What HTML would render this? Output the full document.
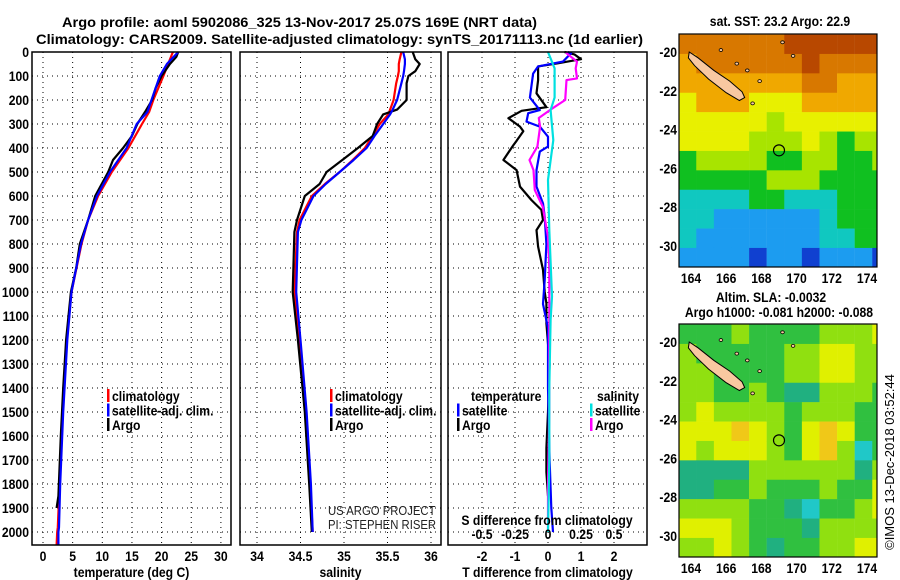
<!DOCTYPE html>
<html><head><meta charset="utf-8"><style>
html,body{margin:0;padding:0;background:#fff;}
svg{display:block;font-family:"Liberation Sans",sans-serif;}
.b{font-weight:bold;font-size:14px;}
</style></head><body>
<svg id="c" width="900" height="580" viewBox="0 0 900 580" xmlns="http://www.w3.org/2000/svg">
<g>
<text class="b" x="62" y="27" textLength="475" lengthAdjust="spacingAndGlyphs">Argo profile: aoml 5902086_325 13-Nov-2017 25.07S 169E (NRT data)</text>
<text class="b" x="36" y="44" textLength="607" lengthAdjust="spacingAndGlyphs">Climatology: CARS2009. Satellite-adjusted climatology: synTS_20171113.nc (1d earlier)</text>
</g>
<g id="grid"></g><g id="lines"></g><g id="frames"></g><g id="labels"></g><g id="maps"></g>
</svg>
<script>
// depth-profile data [depth m, value]
const tempDepths = [0,20,50,100,150,200,250,300,350,400,450,500,550,600,700,800,900,1000,1200,1400,1600,1850,1900];
const tempArgo   = [22.8,22.5,21.4,20,19,18.4,17.2,15.9,15,13.5,11.8,11,9.9,8.8,7.6,6.2,5.6,4.7,3.9,3.4,3.0,2.6,2.3];
const climDepths = [0,50,100,200,250,300,400,500,600,700,800,1000,1200,1500,1800,1980,2000,2054];
const tempClim   = [21.9,21.1,20.3,18.6,17.9,16.7,14.4,11.6,9.3,7.6,6.5,4.8,4.0,3.3,2.8,2.5,2.4,2.3];
const tempSat    = [22.8,20.9,19.7,18.3,17.6,15.8,14.1,11.3,9.1,7.6,6.4,4.8,4.1,3.4,2.9,2.7,2.6,2.6];
const salDepths  = [0,30,50,80,100,130,200,240,260,300,350,400,450,500,550,600,700,750,1000,1200,1500,1800,2000];
const salArgo    = [35.79,35.82,35.87,35.82,35.74,35.72,35.72,35.61,35.45,35.38,35.33,35.16,34.98,34.8,34.72,34.55,34.46,34.43,34.41,34.47,34.55,34.6,34.63];
const salClim    = [35.66,35.64,35.63,35.63,35.62,35.6,35.57,35.53,35.51,35.41,35.33,35.24,35.1,34.95,34.78,34.63,34.49,34.46,34.43,34.49,34.56,34.61,34.64];
const salSat     = [35.68,35.7,35.7,35.69,35.68,35.66,35.61,35.56,35.53,35.45,35.35,35.26,35.11,34.95,34.79,34.65,34.51,34.47,34.45,34.5,34.57,34.62,34.64];
const dTArgoDepths = [0,10,30,47,60,117,172,230,245,276,311,330,370,388,450,492,561,617,658,700,742,811,908,1000,1047,1130,1300,1500,1650,1750,1850];
const dTArgo       = [0.5,0.8,1.0,0.3,-0.3,-0.3,-0.35,-0.05,-0.8,-1.2,-0.85,-0.75,-0.95,-1.05,-1.35,-0.95,-0.85,-0.5,-0.2,-0.15,-0.35,-0.3,-0.15,-0.1,-0.05,-0.05,0.05,0,-0.05,-0.05,0];
const dTSatDepths  = [0,5,40,60,90,190,242,255,290,311,353,394,415,492,561,631,686,800,950,1050,1150,1400,1700,1900,2000];
const dTSat        = [0.6,0.7,0.45,-0.3,-0.45,-0.55,-0.25,-0.6,-0.65,-0.25,0,0,-0.25,-0.35,-0.35,-0.15,-0.1,-0.05,-0.1,-0.15,0,0,0.05,0.1,0.15];
const dSSatDepths  = [0,68,190,242,367,533,742,1019,1116,1400,1700,2000];
const dSSat        = [0,0.05,0.05,0.02,0.04,0,0.01,0.03,0.02,0.01,0.01,0];
const dSArgoDepths = [0,5,40,68,110,117,200,240,275,311,394,450,492,575,644,769,900,1200,1500,1800,2000];
const dSArgo       = [0.14,0.14,0.22,0.21,0.22,0.14,0.13,0.02,-0.07,-0.06,-0.08,-0.14,-0.11,-0.1,-0.04,0,0.01,0.01,0.01,0,0];
// axis ticks
const depthTicks = [0,100,200,300,400,500,600,700,800,900,1000,1100,1200,1300,1400,1500,1600,1700,1800,1900,2000];
const tempTicks = [0,5,10,15,20,25,30];
const salTicks = [34,34.5,35,35.5,36];
const dTTicks = [-2,-1,0,1,2];
const dSTicks = [-0.5,-0.25,0,0.25,0.5];
const dSTickLabels = ["-0.5","-0.25","0","0.25","0.5"];
const latTicks = [-20,-22,-24,-26,-28,-30];
const lonTicks = [164,166,168,170,172,174];
// map grids (rows lat -19.1..-31.1, cols lon 163.3..175.3), colour level indices
const sstLevels = [
[7,7,7,7,7,7,8,8,8,8,8,8],[6,7,7,7,7,7,7,8,7,7,7,7],[6,6,6,6,6,6,6,7,7,6,6,6],[5,6,6,6,5,5,5,6,6,6,6,6],
[5,5,5,5,5,4,5,5,5,5,5,5],[5,5,5,5,4,4,4,5,4,3,4,4],[3,4,4,4,4,3,3,4,4,3,3,4],[3,3,3,3,3,4,4,4,3,3,3,3],
[2,2,2,2,3,3,2,2,2,3,3,3],[2,2,1,1,1,1,1,1,2,3,3,3],[2,1,1,1,1,1,1,1,2,2,3,3],[1,1,1,1,0,1,1,0,1,1,1,0]];
const slaLevels = [
[2,2,2,3,2,2,2,2,3,3,3,4],[3,2,2,2,2,2,3,3,4,4,3,3],[3,3,2,2,2,2,3,3,4,4,3,3],[3,3,2,2,3,2,1,1,3,3,3,2],
[3,4,3,3,3,3,2,3,3,3,2,2],[4,4,4,5,4,3,2,4,5,4,2,2],[4,3,4,4,4,3,2,4,5,3,0,2],[1,1,1,1,3,3,3,3,3,3,1,3],
[1,1,2,2,3,2,2,2,3,2,2,4],[3,3,3,3,2,2,1,0,2,2,3,4],[4,4,4,3,2,2,2,1,3,3,3,3],[3,3,4,3,2,1,2,2,3,3,4,4]];
const sstColors = ["#1040d0","#1c9cf0","#10c8c0","#10c020","#a8e400","#e8f000","#f0a800","#d87800","#b84800"];
const slaColors = ["#20c8c8","#20b080","#30c040","#90e010","#e0f000","#f0c818"];
const argoLon = 169.0, argoLat = -25.07;
const island = [[163.9,-20.0],[164.4,-20.3],[165.3,-20.95],[166.2,-21.5],[166.9,-22.05],[167.05,-22.35],[166.75,-22.5],[166.0,-22.1],[165.0,-21.4],[164.2,-20.7],[163.85,-20.3]];
const smallIslands = [[165.7,-19.9],[166.6,-20.6],[167.2,-20.95],[167.9,-21.5],[167.5,-22.65],[169.2,-19.5],[169.8,-20.2]];

const NS="http://www.w3.org/2000/svg";
function mk(tag, attrs, parent, txt){const e=document.createElementNS(NS,tag);for(const k in attrs)e.setAttribute(k,attrs[k]);if(txt!==undefined)e.textContent=txt;parent.appendChild(e);return e;}
const G=document.getElementById('grid'),L=document.getElementById('lines'),F=document.getElementById('frames'),T=document.getElementById('labels'),M=document.getElementById('maps');
const TOP=52,BOT=545;
const yD=d=>TOP+d*0.24;
const xT=v=>43+v*5.93, xS=v=>257+(v-34)*87, xdT=v=>548+v*33, xdS=v=>548+v*132;
const panels=[{x0:32,x1:231,ticks:tempTicks,fx:xT,lab:tempTicks.map(String),title:"temperature (deg C)",name:"temperature-panel"},
{x0:240,x1:441,ticks:salTicks,fx:xS,lab:salTicks.map(String),title:"salinity",name:"salinity-panel"},
{x0:448,x1:647,ticks:dTTicks,fx:xdT,lab:dTTicks.map(String),title:"T difference from climatology",name:"difference-panel"}];
panels.forEach(p=>{
  depthTicks.forEach(d=>{const l=mk('line',{x1:p.x0,x2:p.x1,y1:yD(d),y2:yD(d),stroke:'#000','stroke-width':1,'stroke-dasharray':'1,4'},G);
    
    });
  p.ticks.forEach((v,i)=>{const x=p.fx(v);
    const l=mk('line',{x1:x,x2:x,y1:TOP,y2:BOT,stroke:'#000','stroke-width':1,'stroke-dasharray':'1,4'},G);
    
    
    const t=mk('text',{x:x,y:561,'text-anchor':'middle',class:'b'},T,p.lab[i]);
    
    });
  const r=mk('rect',{x:p.x0,y:TOP,width:p.x1-p.x0,height:BOT-TOP,fill:'none',stroke:'#000','stroke-width':1.5},F);
  
  
  const t=mk('text',{x:(p.x0+p.x1)/2,y:577,'text-anchor':'middle',class:'b'},T,p.title);
  
  
});
depthTicks.forEach(d=>{const t=mk('text',{x:29,y:yD(d)+5,'text-anchor':'end',class:'b'},T,String(d));
  
  });
function line(depths,vals,fx,col,name){
  const pts=depths.map((d,i)=>fx(vals[i]).toFixed(1)+','+yD(d).toFixed(1)).join(' ');
  const p=mk('polyline',{points:pts,fill:'none',stroke:col,'stroke-width':2.2,'stroke-linejoin':'round'},L);
  
  
}
line(climDepths,tempClim,xT,'#ff0000','temperature-climatology-line');
line(tempDepths,tempArgo,xT,'#000','temperature-argo-line');
line(climDepths,tempSat,xT,'#0000ff','temperature-satellite-line');
line(salDepths,salClim,xS,'#ff0000','salinity-climatology-line');
line(salDepths,salArgo,xS,'#000','salinity-argo-line');
line(salDepths,salSat,xS,'#0000ff','salinity-satellite-line');
line(dTArgoDepths,dTArgo,xdT,'#000','t-diff-argo-line');
line(dTSatDepths,dTSat,xdT,'#0000ff','t-diff-satellite-line');
line(dSArgoDepths,dSArgo,xdS,'#ff00ff','s-diff-argo-line');
line(dSSatDepths,dSSat,xdS,'#00e0e0','s-diff-satellite-line');
function legend(x,y,col,txt,name){
  const r=mk('rect',{x:x,y:y-10,width:2.5,height:13,fill:col},T);
  
  
  const t=mk('text',{x:x+5,y:y+2,class:'b','font-size':'13'},T,txt);
  
  
}
[[107,'#f00','climatology'],[107,'#00f','satellite-adj. clim.'],[107,'#000','Argo']].forEach((a,i)=>legend(a[0],399+i*14.5,a[1],a[2],'temp-legend-entry'));
[[330,'#f00','climatology'],[330,'#00f','satellite-adj. clim.'],[330,'#000','Argo']].forEach((a,i)=>legend(a[0],399+i*14.5,a[1],a[2],'sal-legend-entry'));
legend(457,413.5,'#00f','satellite','diff-legend-t-satellite');
legend(457,428,'#000','Argo','diff-legend-t-argo');
legend(590,413.5,'#00e0e0','satellite','diff-legend-s-satellite');
legend(590,428,'#f0f','Argo','diff-legend-s-argo');
function txt(x,y,s,name,extra){const t=mk('text',Object.assign({x:x,y:y,class:'b'},extra||{}),T,s);
  
  return t;}
txt(471,401,'temperature','diff-legend-temperature-header');
txt(597,401,'salinity','diff-legend-salinity-header');
txt(547,525,'S difference from climatology','s-axis-title',{'text-anchor':'middle'});
dSTicks.forEach((v,i)=>txt(xdS(v),539,dSTickLabels[i],'s-tick-label',{'text-anchor':'middle'}));
const cl=mk('clipPath',{id:'p2c'},T);mk('rect',{x:240,y:52,width:201,height:493},cl);
const pi=mk('g',{'clip-path':'url(#p2c)'},T);
[['US ARGO PROJECT',515],['PI: STEPHEN RISER',529]].forEach(a=>{const t=mk('text',{x:328,y:a[1],'font-size':'13',fill:'#222',class:'cond'},pi,a[0]);
  
  });
// maps
function map(top,bot,lat20,lat30,levels,colors,name){
  const x0=679,x1=877,lx=v=>691+(v-164)*17.6,ly=v=>lat20+(-20-v)*(lat30-lat20)/10;
  const g=mk('g',{},M);
  const cc=mk('clipPath',{id:name+'c'},g);mk('rect',{x:x0,y:top,width:x1-x0,height:bot-top},cc);
  const h=mk('g',{'clip-path':'url(#'+name+'c)'},g);
  levels.forEach((row,r)=>row.forEach((lv,c)=>{
    const lon=163.3+c, lat=-19.1-r;
    const e=mk('rect',{x:lx(lon),y:ly(lat),width:17.8,height:(lat30-lat20)/10+0.3,fill:colors[lv]},h);
    
    }));
  const isl=mk('polygon',{points:island.map(p=>lx(p[0])+','+ly(p[1])).join(' '),fill:'#f8c8a0',stroke:'#000','stroke-width':1},h);
  
  
  smallIslands.forEach(p=>{const s=mk('ellipse',{cx:lx(p[0]),cy:ly(p[1]),rx:1.8,ry:1.5,fill:'#f8c8a0',stroke:'#000','stroke-width':0.8},h);
    
    });
  const ar=mk('circle',{cx:lx(argoLon),cy:ly(argoLat),r:5.5,fill:'none',stroke:'#000','stroke-width':1.2},h);
  
  
  const fr=mk('rect',{x:x0,y:top,width:x1-x0,height:bot-top,fill:'none',stroke:'#000','stroke-width':1.2},g);
  
  
  latTicks.forEach(v=>{const t=mk('text',{x:677,y:ly(v)+5,'text-anchor':'end',class:'b'},g,String(v));
    
    });
  lonTicks.forEach(v=>{const t=mk('text',{x:lx(v),y:bot+16,'text-anchor':'middle',class:'b'},g,String(v));
    
    });
}
map(34,267,52,246,sstLevels,sstColors,'sst-map');
map(324,557,342,536,slaLevels,slaColors,'sla-map');
txt(780,26,'sat. SST: 23.2 Argo: 22.9','sst-map-title',{'text-anchor':'middle'});
txt(771,302,'Altim. SLA: -0.0032','sla-map-title',{'text-anchor':'middle'});
txt(779,317,'Argo h1000: -0.081 h2000: -0.088','sla-map-subtitle',{'text-anchor':'middle'});
const ts=mk('text',{x:0,y:0,'font-size':'13',transform:'translate(894,462) rotate(-90)','text-anchor':'middle'},T,'©IMOS 13-Dec-2018 03:52:44');


// condense text to match narrow reference font
document.querySelectorAll('text.b:not([textLength]), text.cond').forEach(t=>{
  const w=t.getComputedTextLength();
  if(w>0){t.setAttribute('textLength',(w*0.87).toFixed(1));t.setAttribute('lengthAdjust','spacingAndGlyphs');}
});
</script>
</body></html>
